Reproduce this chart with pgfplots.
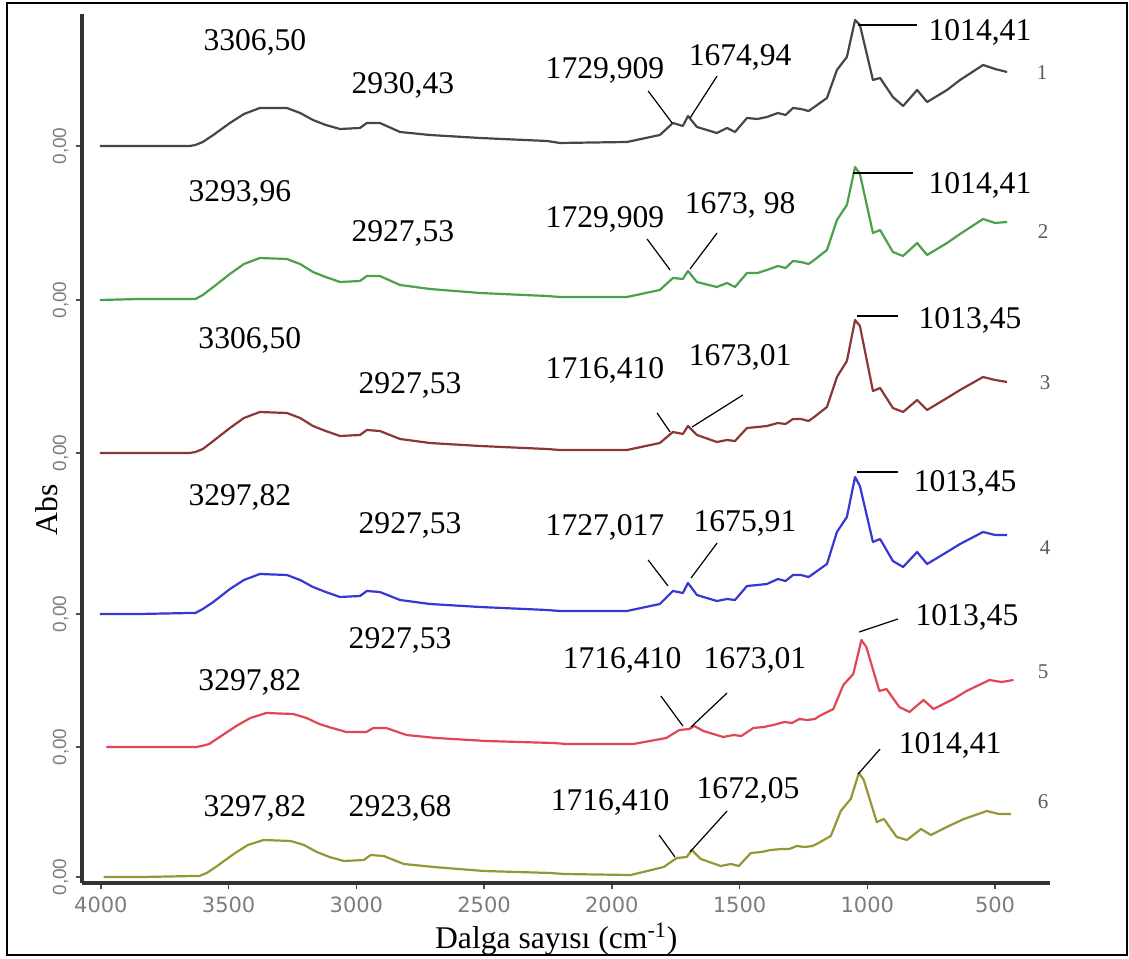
\documentclass[border=0pt]{standalone}
\usepackage{fontspec}
\setmainfont{Liberation Serif}
\setsansfont{Liberation Sans}
\newfontfamily\tickfont{DejaVu Sans}
\usepackage{pgfplots}
\usepackage{pgfplotstable}
\pgfplotsset{compat=1.18}

\definecolor{cA}{RGB}{70,70,70}
\definecolor{cB}{RGB}{75,160,75}
\definecolor{cC}{RGB}{140,55,55}
\definecolor{cD}{RGB}{55,55,210}
\definecolor{cE}{RGB}{225,70,85}
\definecolor{cF}{RGB}{150,150,55}
\definecolor{tickgray}{RGB}{125,125,125}

\tikzset{
  lbl/.style={font=\fontsize{15.8}{18}\selectfont, inner sep=0pt},
  num/.style={font=\fontsize{10.5}{12}\selectfont, text=black!65, inner sep=0pt},
  ldr/.style={line width=0.6pt, black},
}

% w = wavenumber, h = absorbance (drawn height, offset per trace below)
\pgfplotstableread{
w h
4004 0
3850 0
3652 0
3630 1
3601 4
3560 11
3495 23
3440 32
3378 38
3272 38
3220 33
3170 26
3120 21
3064 17
2986 18
2959 23
2908 23
2829 14
2712 11
2516 8
2254 5
2203 3
1941 4
1812 11
1761 23
1722 20
1702 30
1667 19
1589 13
1549 18
1518 14
1471 28
1430 27
1393 29
1350 33
1320 31
1291 38
1260 37
1230 35
1213 38
1158 48
1119 76
1080 89
1048 126
1029 121
978 66
950 68
900 49
860 40
805 56
766 44
688 56
637 66
547 81
500 77
453 74
}\traceA

\pgfplotstableread{
w h
4004 0
3850 1
3652 1
3630 1
3601 5
3560 13
3495 26
3440 36
3378 42
3272 41
3220 36
3170 28
3120 23
3064 18
2986 19
2959 24
2908 24
2829 15
2712 11
2516 7
2254 4
2203 3
1941 3
1812 10
1761 22
1722 21
1702 29
1667 18
1589 13
1549 17
1518 13
1471 27
1430 27
1393 30
1350 34
1320 32
1291 39
1260 38
1230 36
1213 39
1158 50
1119 80
1080 95
1048 133
1029 126
978 67
950 70
900 48
860 44
805 57
766 45
688 57
637 66
547 81
500 77
453 78
}\traceB

\pgfplotstableread{
w h
4004 0
3850 0
3652 0
3630 1
3601 4
3560 12
3495 25
3440 35
3378 41
3272 40
3220 35
3170 27
3120 22
3064 17
2986 18
2959 23
2908 22
2829 14
2712 10
2516 7
2254 4
2203 3
1941 3
1812 10
1761 21
1722 19
1702 27
1667 18
1589 11
1549 13
1518 12
1471 25
1430 26
1393 27
1350 30
1320 29
1291 34
1260 34
1230 32
1213 35
1158 46
1119 76
1080 92
1048 133
1029 127
978 62
950 65
900 45
860 41
805 53
766 43
688 55
637 63
547 76
500 73
453 71
}\traceC

\pgfplotstableread{
w h
4004 0
3850 0
3652 1
3630 1
3601 5
3560 12
3495 25
3440 34
3378 40
3272 39
3220 34
3170 27
3120 22
3064 17
2986 18
2959 23
2908 22
2829 14
2712 10
2516 7
2254 4
2203 3
1941 3
1812 10
1761 23
1722 21
1702 31
1667 19
1589 13
1549 15
1518 14
1471 28
1430 29
1393 30
1350 35
1320 33
1291 39
1260 39
1230 37
1213 40
1158 50
1119 82
1080 97
1048 137
1029 128
978 72
950 75
900 53
860 47
805 62
766 50
688 62
637 70
547 82
500 79
453 79
}\traceD

\pgfplotstableread{
w h
3979 0
3825 0
3627 0
3605 1
3576 3
3535 10
3470 21
3415 29
3353 34
3247 33
3195 29
3145 23
3095 19
3039 15
2961 15
2934 19
2883 19
2804 12
2687 9
2491 6
2229 4
2178 3
1916 3
1787 9
1736 17
1697 18
1677 21
1642 16
1564 10
1524 12
1493 11
1446 19
1405 20
1368 22
1325 25
1295 24
1266 28
1235 27
1205 28
1188 31
1133 38
1094 62
1055 73
1023 107
1004 100
953 56
925 58
875 40
835 35
780 47
741 38
663 48
612 56
522 67
475 65
428 67
}\traceE

\pgfplotstableread{
w h
3989 0
3835 0
3637 1
3615 1
3586 4
3545 11
3480 23
3425 32
3363 37
3257 36
3205 32
3155 25
3105 20
3049 16
2971 17
2944 22
2893 21
2814 13
2697 10
2501 6
2239 4
2188 3
1926 2
1797 10
1746 19
1707 20
1687 27
1652 18
1574 11
1534 13
1503 11
1456 24
1415 25
1378 27
1335 28
1305 28
1276 31
1245 30
1215 31
1198 33
1143 41
1104 66
1065 78
1033 104
1014 97
963 55
935 58
885 40
845 37
790 48
751 42
673 52
622 58
532 66
485 63
438 63
}\traceF

\begin{document}
\begin{tikzpicture}
\useasboundingbox (0,0) rectangle (564.5pt,479pt);
\draw[line width=0.7pt] (3.5pt,1.5pt) rectangle (563.5pt,477.5pt);
\begin{axis}[
  at={(41pt,37.5pt)}, anchor=south west,
  width=484pt, height=434.5pt, scale only axis,
  x dir=reverse, xmin=285, xmax=4074,
  ymin=75, ymax=944,
  axis lines=left,
  axis line style={-, line width=1.6pt, black!80},
  clip=false,
  xtick={500,1000,...,4000},
  ytick={81,211,344,505,658,812},
  yticklabels={{0,00},{0,00},{0,00},{0,00},{0,00},{0,00}},
  tick align=outside,
  major tick length=3.2pt,
  tick style={line width=0.8pt, black!70},
  /pgf/number format/1000 sep={},
  /pgf/number format/assume math mode=true,
  xticklabel style={font=\tickfont\fontsize{10.5}{11}\selectfont, text=tickgray},
  yticklabel style={font=\sffamily\fontsize{9.5}{10}\selectfont, text=tickgray, rotate=90, anchor=south},
  xlabel={Dalga sayısı (cm\textsuperscript{-1})},
  xlabel style={font=\fontsize{15.8}{18}\selectfont, at={(rel axis cs:0.49,0)}, anchor=center, yshift=-28pt},
  every axis plot/.append style={line width=1.1pt, line join=round},
]
\addplot[cA] table[x=w, y expr=\thisrow{h}+812] {\traceA};
\addplot[cB] table[x=w, y expr=\thisrow{h}+658] {\traceB};
\addplot[cC] table[x=w, y expr=\thisrow{h}+505] {\traceC};
\addplot[cD] table[x=w, y expr=\thisrow{h}+344] {\traceD};
\addplot[cE] table[x=w, y expr=\thisrow{h}+211] {\traceE};
\addplot[cF] table[x=w, y expr=\thisrow{h}+81] {\traceF};

\node[rotate=90, font=\fontsize{15.8}{18}\selectfont, inner sep=0pt] at (axis cs:4211,448) {Abs};

% trace 1
\node[lbl] at (axis cs:3397,916) {3306,50};
\node[lbl] at (axis cs:2818,873) {2930,43};
\node[lbl] at (axis cs:2027,888) {1729,909};
\node[lbl] at (axis cs:1498,901) {1674,94};
\node[lbl] at (axis cs:559,926) {1014,41};
\node[num] at (axis cs:316,885) {1};
\draw[ldr] (axis cs:1858,867) -- (axis cs:1764,835);
\draw[ldr] (axis cs:1588,882) -- (axis cs:1694,840);
\draw[ldr] (axis cs:1036,933) -- (axis cs:805,933);
% trace 2
\node[lbl] at (axis cs:3456,765) {3293,96};
\node[lbl] at (axis cs:2818,725) {2927,53};
\node[lbl] at (axis cs:2027,739) {1729,909};
\node[lbl] at (axis cs:1498,753) {1673, 98};
\node[lbl] at (axis cs:559,773) {1014,41};
\node[num] at (axis cs:312,726) {2};
\draw[ldr] (axis cs:1862,719) -- (axis cs:1772,688);
\draw[ldr] (axis cs:1588,725) -- (axis cs:1694,689);
\draw[ldr] (axis cs:1056,785) -- (axis cs:821,785);
% trace 3
\node[lbl] at (axis cs:3417,618) {3306,50};
\node[lbl] at (axis cs:2790,573) {2927,53};
\node[lbl] at (axis cs:2027,588) {1716,410};
\node[lbl] at (axis cs:1498,601) {1673,01};
\node[lbl] at (axis cs:598,638) {1013,45};
\node[num] at (axis cs:304,575) {3};
\draw[ldr] (axis cs:1823,545) -- (axis cs:1772,526);
\draw[ldr] (axis cs:1487,563) -- (axis cs:1686,531);
\draw[ldr] (axis cs:1040,642) -- (axis cs:880,642);
% trace 4
\node[lbl] at (axis cs:3456,461) {3297,82};
\node[lbl] at (axis cs:2790,433) {2927,53};
\node[lbl] at (axis cs:2027,431) {1727,017};
\node[lbl] at (axis cs:1479,435) {1675,91};
\node[lbl] at (axis cs:617,475) {1013,45};
\node[num] at (axis cs:304,410) {4};
\draw[ldr] (axis cs:1858,398) -- (axis cs:1780,372);
\draw[ldr] (axis cs:1588,415) -- (axis cs:1690,380);
\draw[ldr] (axis cs:1040,486) -- (axis cs:880,486);
% trace 5
\node[lbl] at (axis cs:3417,276) {3297,82};
\node[lbl] at (axis cs:2829,318) {2927,53};
\node[lbl] at (axis cs:1960,298) {1716,410};
\node[lbl] at (axis cs:1440,298) {1673,01};
\node[lbl] at (axis cs:610,341) {1013,45};
\node[num] at (axis cs:312,286) {5};
\draw[ldr] (axis cs:1808,262) -- (axis cs:1722,232);
\draw[ldr] (axis cs:1549,265) -- (axis cs:1690,231);
\draw[ldr] (axis cs:1032,326) -- (axis cs:880,339);
% trace 6
\node[lbl] at (axis cs:3397,150) {3297,82};
\node[lbl] at (axis cs:2829,150) {2923,68};
\node[lbl] at (axis cs:2007,156) {1716,410};
\node[lbl] at (axis cs:1467,168) {1672,05};
\node[lbl] at (axis cs:676,213) {1014,41};
\node[num] at (axis cs:312,156) {6};
\draw[ldr] (axis cs:1815,123) -- (axis cs:1753,101);
\draw[ldr] (axis cs:1549,147) -- (axis cs:1694,106);
\draw[ldr] (axis cs:950,209) -- (axis cs:1036,184);
\end{axis}
\end{tikzpicture}
\end{document}
